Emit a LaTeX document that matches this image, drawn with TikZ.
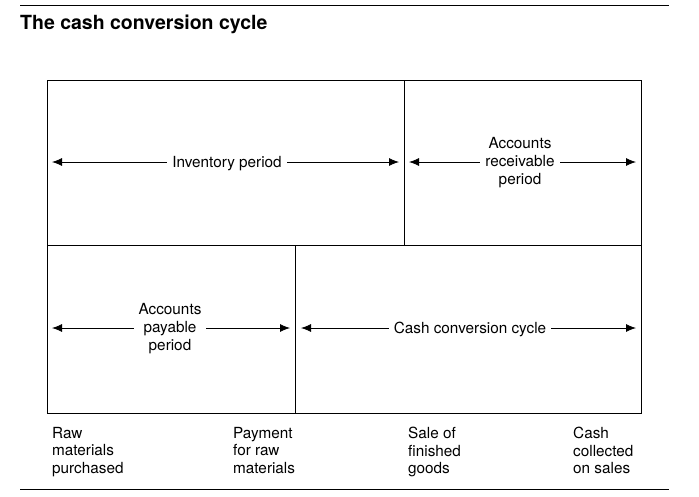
\documentclass[tikz,border=0pt]{standalone}
\usepackage{fontspec}
\setmainfont{TeX Gyre Heros}
\usetikzlibrary{arrows.meta}
\begin{document}
\begin{tikzpicture}[x=1pt,y=-1pt,
  frame/.style={draw=black, line width=0.9pt},
  rule/.style={draw=black, line width=1pt},
  span/.style={draw=black, line width=0.8pt, {Latex[length=10pt,width=8pt]}-{Latex[length=10pt,width=8pt]}},
  lab/.style={fill=white, inner sep=5pt, align=center, font=\fontsize{15.3}{18}\selectfont},
  foot/.style={anchor=north west, inner sep=0pt, align=left, font=\fontsize{15.3}{17.5}\selectfont}]
\useasboundingbox (0,0) rectangle (699,496);
\draw[rule] (20,5) -- (669,5);
\draw[rule] (20,489) -- (669,489);
\node[anchor=west, inner sep=0pt, font=\fontsize{19.5}{22}\selectfont\bfseries] (title) at (20,24.5) {The cash conversion cycle};
\draw[frame] (47,80) rectangle (641,413);
\draw[frame] (47,245) -- (641,245);
\draw[frame] (404,80) -- (404,245);
\draw[frame] (295,245) -- (295,413);
% arrows
\coordinate (a1) at (52,162); \coordinate (b1) at (399,162);
\coordinate (a2) at (409,162); \coordinate (b2) at (636,162);
\coordinate (a3) at (52,328); \coordinate (b3) at (290,328);
\coordinate (a4) at (301,328); \coordinate (b4) at (636,328);
\draw[span] (a1) -- (b1);
\draw[span] (a2) -- (b2);
\draw[span] (a3) -- (b3);
\draw[span] (a4) -- (b4);
\node[lab] (inv) at (227,163.5) {Inventory period};
\node[lab] (rec) at (520,163) {Accounts\\receivable\\period};
\node[lab] (pay) at (170,329) {Accounts\\payable\\period};
\node[lab] (ccc) at (470,329.5) {Cash conversion cycle};
\node[foot] (f1) at (52,427) {Raw\\materials\\purchased};
\node[foot] (f2) at (233,427) {Payment\\for raw\\materials};
\node[foot] (f3) at (408,427) {Sale of\\finished\\goods};
\node[foot] (f4) at (573,427) {Cash\\collected\\on sales};
\end{tikzpicture}
\end{document}
